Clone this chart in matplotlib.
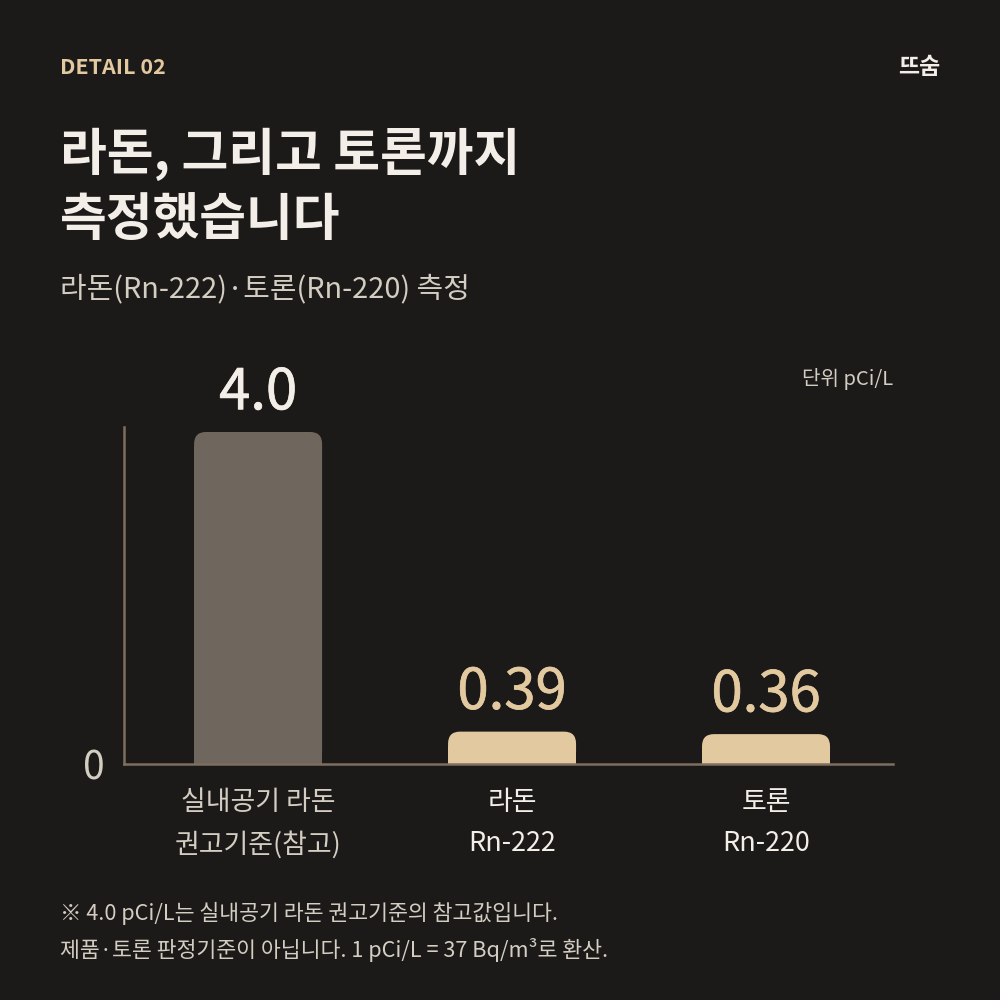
import matplotlib
matplotlib.use("Agg")
import matplotlib.pyplot as plt
import matplotlib.patheffects as pe
from matplotlib.patches import FancyBboxPatch, Rectangle

plt.rcParams['font.family'] = ['Noto Sans CJK KR', 'DejaVu Sans']

categories = ["실내공기 라돈\n권고기준(참고)", "라돈\nRn-222", "토론\nRn-220"]
values = [4.0, 0.39, 0.36]
value_labels = ["4.0", "0.39", "0.36"]

BG = "#1c1a19"
TAN = "#e3c9a0"
GREY_BAR = "#6f675d"
SPINE = "#7d6e5e"
WHITE = "#f3eee7"
LIGHT = "#d4cdc2"

fig = plt.figure(figsize=(10, 10), dpi=100, facecolor=BG)
ax = fig.add_axes([0.124, 0.236, 0.769, 0.337])
ax.set_facecolor(BG)

xs = list(range(len(values)))
ax.set_xlim(-0.528, 2.5)
ax.set_ylim(0, 4.06)
bar_colors = [GREY_BAR, TAN, TAN]
bars = ax.bar(xs, values, width=0.504, color=bar_colors)

fig.canvas.draw()
# rounded top corners
x_per_px = (ax.get_xlim()[1] - ax.get_xlim()[0]) / ax.bbox.width
y_per_px = (ax.get_ylim()[1] - ax.get_ylim()[0]) / ax.bbox.height
r_px = 12
aspect = y_per_px / x_per_px
for b, c in zip(bars, bar_colors):
    x0, w, h = b.get_x(), b.get_width(), b.get_height()
    b.set_visible(False)
    ax.add_patch(FancyBboxPatch((x0, 0), w, h,
                                boxstyle=f"round,pad=0,rounding_size={r_px * x_per_px}",
                                mutation_aspect=aspect, fc=c, ec="none", zorder=2))
    ax.add_patch(Rectangle((x0, 0), w, h - r_px * y_per_px * 1.2, fc=c, ec="none", zorder=2))

for x, v, lab, c in zip(xs, values, value_labels, [WHITE, TAN, TAN]):
    ax.annotate(lab, (x, v), xytext=(0, 7), textcoords="offset points",
                ha="center", va="bottom", fontsize=40.5, color=c,
                path_effects=[pe.withStroke(linewidth=0.5, foreground=c)])

for s in ["top", "right"]:
    ax.spines[s].set_visible(False)
for s in ["left", "bottom"]:
    ax.spines[s].set_color(SPINE)
    ax.spines[s].set_linewidth(1.8)

ax.set_yticks([0])
ax.set_yticklabels(["0"], fontsize=28, color=LIGHT, fontweight="light")
ax.tick_params(axis="y", length=0, pad=14)
ax.set_xticks(xs)
ax.set_xticklabels(categories, fontsize=19.4, linespacing=1.68)
ax.tick_params(axis="x", length=0, pad=18)
for t, c in zip(ax.get_xticklabels(), [LIGHT, WHITE, WHITE]):
    t.set_color(c)

fig.text(0.060, 0.933, "DETAIL 02", fontsize=15.5, color=TAN, fontweight="bold", va="center")
fig.text(0.940, 0.932, "뜨숨", fontsize=16.5, color=WHITE, fontweight="bold", va="center", ha="right")
fig.text(0.060, 0.846, "라돈, 그리고 토론까지", fontsize=36.6, color=WHITE, fontweight="bold", va="center")
fig.text(0.060, 0.779, "측정했습니다", fontsize=36.6, color=WHITE, fontweight="bold", va="center")
fig.text(0.060, 0.711, "라돈(Rn-222)·토론(Rn-220) 측정", fontsize=20.8, color=LIGHT, va="center")
fig.text(0.893, 0.621, "단위 pCi/L", fontsize=14.5, color=LIGHT, va="center", ha="right")
fig.text(0.060, 0.087, "※ 4.0 pCi/L는 실내공기 라돈 권고기준의 참고값입니다.", fontsize=15.6, color=LIGHT, va="center")
fig.text(0.060, 0.050, "제품·토론 판정기준이 아닙니다. 1 pCi/L = 37 Bq/m³로 환산.", fontsize=15.6, color=LIGHT, va="center")

fig.savefig("out.png", dpi=100, facecolor=BG)
